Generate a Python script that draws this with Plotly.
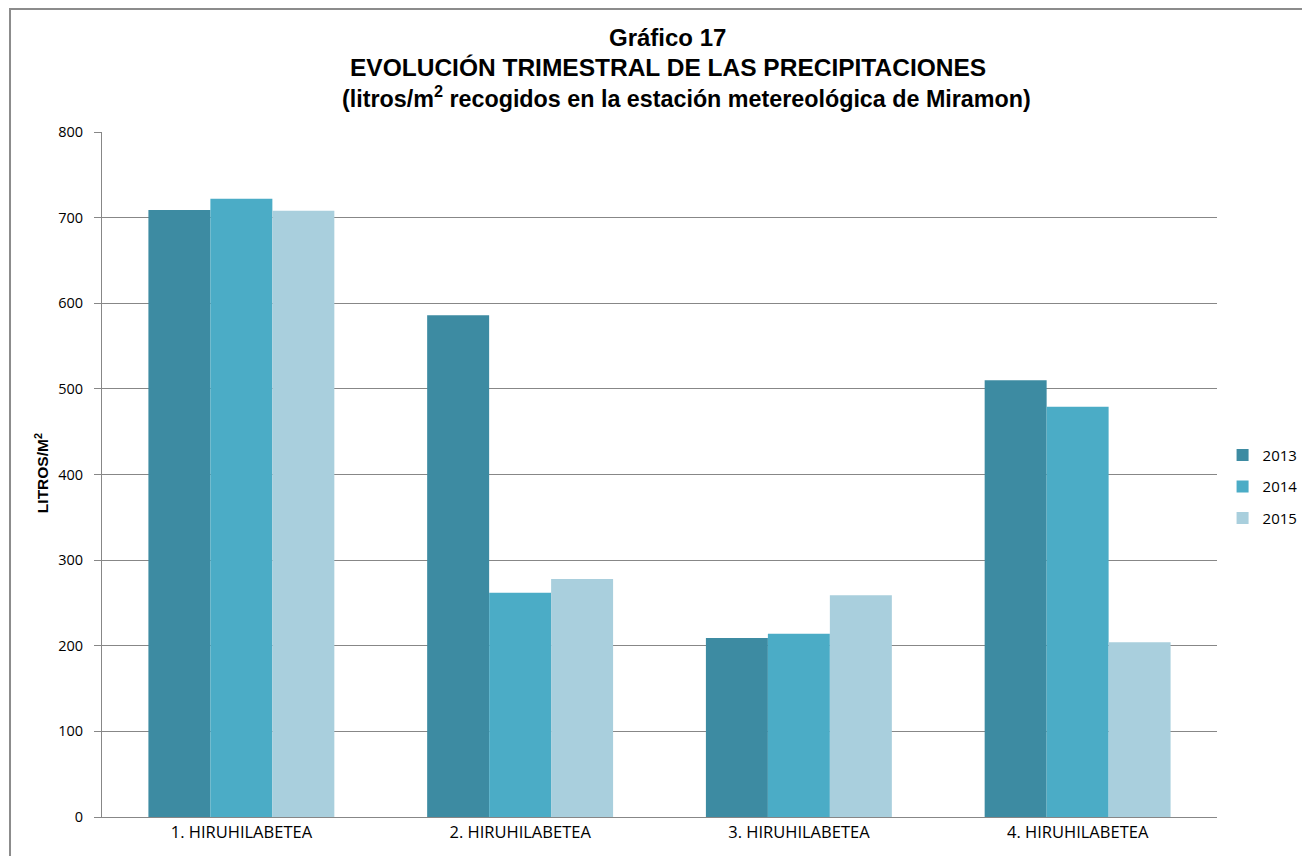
import plotly.graph_objects as go

categories = ["1. HIRUHILABETEA", "2. HIRUHILABETEA", "3. HIRUHILABETEA", "4. HIRUHILABETEA"]
years = ["2013", "2014", "2015"]
values_2013 = [709, 586, 209, 510]
values_2014 = [722, 262, 214, 479]
values_2015 = [708, 278, 259, 204]
colors = ["#3D8BA2", "#4BACC6", "#A9CFDD"]

series = [values_2013, values_2014, values_2015]

fig = go.Figure()
for name, vals, col in zip(years, series, colors):
    fig.add_trace(go.Bar(x=categories, y=vals, name=name, legendgroup=name,
                         marker=dict(color=col, line=dict(width=0))))

title_lines = [
    ("Gráfico 17", 24, 0.5075, 1.138),
    ("EVOLUCIÓN TRIMESTRAL DE LAS PRECIPITACIONES", 24.5, 0.5075, 1.094),
    ("(litros/m<sup>2</sup> recogidos en la estación metereológica de Miramon)", 23.3, 0.5238, 1.051),
]

fig.update_layout(
    width=1302, height=856,
    margin=dict(l=102, r=85, t=132, b=39, autoexpand=False),
    paper_bgcolor="white", plot_bgcolor="white",
    barmode="group", bargap=0.333, bargroupgap=0,
    font=dict(family="Open Sans, Liberation Sans, Arial", color="#000000"),
    legend=dict(xref="container", x=0.939, xanchor="left", y=0.482, yanchor="middle",
                font=dict(family="Open Sans, Liberation Sans", size=15, color="#000000"),
                itemwidth=30, tracegroupgap=9, bgcolor="rgba(0,0,0,0)"),
    showlegend=True,
)
for text, size, xpos, ypos in title_lines:
    fig.add_annotation(text=f"<b>{text}</b>", xref="paper", yref="paper",
                       x=xpos, y=ypos, xanchor="center", yanchor="middle", showarrow=False,
                       font=dict(family="Liberation Sans, Arial", size=size, color="#000000"))

fig.add_annotation(text="<b>LITROS/M<sup>2</sup></b>", xref="paper", yref="paper",
                   x=-0.0538, y=0.502, xanchor="center", yanchor="middle", textangle=-90,
                   showarrow=False,
                   font=dict(family="Liberation Sans, Arial", size=15.5, color="#000000"))

fig.update_xaxes(showgrid=False, showline=True, linecolor="#878787", linewidth=1,
                 ticks="", tickfont=dict(family="Open Sans, Liberation Sans", size=16.5, color="#000000"))
fig.update_yaxes(range=[0, 800], dtick=100, showgrid=True, gridcolor="#878787", gridwidth=1,
                 showline=True, linecolor="#878787", linewidth=1, ticks="outside", ticklen=7,
                 tickcolor="#878787", zeroline=False, ticklabelstandoff=8,
                 tickfont=dict(family="Open Sans, Liberation Sans", size=14.5, color="#000000"))

# outer chart frame
fig.add_shape(type="rect", xref="paper", yref="paper",
              x0=-0.0825, x1=1.2, y0=-0.2, y1=1.1795,
              line=dict(color="#8C8C8C", width=2), fillcolor="rgba(0,0,0,0)", layer="below")

fig.write_html("out.html")
